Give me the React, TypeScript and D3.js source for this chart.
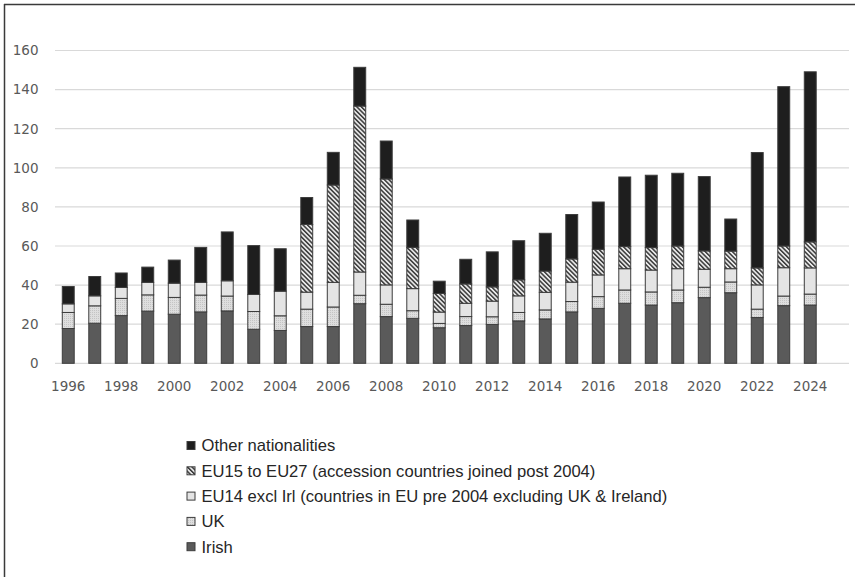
import React from "react";
import * as d3 from "d3";

const years = [1996,1997,1998,1999,2000,2001,2002,2003,2004,2005,2006,2007,2008,2009,2010,2011,2012,2013,2014,2015,2016,2017,2018,2019,2020,2021,2022,2023,2024];
const irish = [17.8,20.5,24.4,26.7,25.1,26.3,26.8,17.4,16.8,18.8,18.8,30.5,23.9,23.0,18.2,19.3,19.9,21.7,22.7,26.3,28.1,30.7,29.8,31.0,33.6,36.1,23.4,29.5,29.8];
const uk = [8.2,8.9,8.8,8.3,8.6,8.6,7.6,9.1,7.5,8.9,10.0,4.3,6.3,3.9,2.2,4.6,3.9,4.3,4.6,5.3,6.0,6.8,6.7,6.5,5.3,5.5,4.3,4.9,5.6];
const eu14 = [4.4,5.1,5.6,6.4,7.3,6.5,7.8,8.7,12.6,8.7,12.6,11.9,9.9,11.3,5.8,6.8,8.0,8.5,9.0,9.9,11.1,10.9,11.2,10.9,9.2,6.8,12.4,14.5,13.4];
const eu15to27 = [0,0,0,0,0,0,0,0,0,34.6,49.8,84.9,54.2,21.1,9.5,9.9,7.3,8.2,10.9,11.9,13.1,11.3,11.5,11.6,9.4,9.0,8.7,11.1,13.3];
const other = [8.9,9.9,7.4,7.8,11.8,17.9,25.0,25.0,21.7,13.8,16.7,19.8,19.4,14.0,6.3,12.6,17.9,20.0,19.3,22.7,24.2,35.6,37.0,37.2,38.0,16.4,59.0,81.5,87.0];
const seriesKeys = ["irish","uk","eu14","eu15","other"];
const seriesLabels = [
  "Irish",
  "UK",
  "EU14 excl Irl (countries in EU pre 2004 excluding UK & Ireland)",
  "EU15 to EU27 (accession countries joined post 2004)",
  "Other nationalities",
];
const yTicks = [0,20,40,60,80,100,120,140,160];
const xLabelYears = years.filter((y) => y % 2 === 0);

const fills: Record<string,string> = {
  irish: "#5a5a5a",
  uk: "url(#ukDots)",
  eu14: "#e4e4e4",
  eu15: "url(#hatch)",
  other: "#1e1e1e",
};

export default function App() {
  const rows = years.map((y, i) => ({
    year: y, irish: irish[i], uk: uk[i], eu14: eu14[i], eu15: eu15to27[i], other: other[i],
  }));
  const stack = d3.stack<any>().keys(seriesKeys)(rows);
  const x = d3.scaleBand<number>().domain(years).range([55, 823.5]).paddingInner(0.55).paddingOuter(0.275);
  const y = d3.scaleLinear().domain([0, 160]).range([363.3, 50.5]);
  const tickFont = "'DejaVu Sans', sans-serif";
  const legFont = "'Liberation Sans', Arial, sans-serif";
  const legendOrder = [4,3,2,1,0];
  return (
    <svg width={855} height={577} style={{ position: "absolute", left: 0, top: 0, background: "#fff" }}>
      <defs>
        <pattern id="hatch" patternUnits="userSpaceOnUse" width={3.2} height={3.2} patternTransform="rotate(-45)">
          <rect width={3.2} height={3.2} fill="#e8e8e8" />
          <rect width={1.5} height={3.2} fill="#3a3a3a" />
        </pattern>
        <pattern id="ukDots" patternUnits="userSpaceOnUse" width={2} height={2}>
          <rect width={2} height={2} fill="#dedede" />
          <rect width={1} height={1} fill="#c4c4c4" />
        </pattern>
      </defs>
      <rect x={0} y={0} width={855} height={577} fill="#fff" />
      <line x1={4.5} x2={4.5} y1={4} y2={577} stroke="#3a3a3a" strokeWidth={1.5} />
      <line x1={4} x2={855} y1={4.5} y2={4.5} stroke="#3a3a3a" strokeWidth={1.5} />
      {yTicks.map((t) => (
        <g key={t}>
          <line x1={55} x2={849} y1={y(t)} y2={y(t)} stroke="#d9d9d9" strokeWidth={1.2} />
          <text x={38.5} y={y(t)} dy="0.36em" textAnchor="end" fontFamily={tickFont} fontSize={13.5} fill="#595959">{t}</text>
        </g>
      ))}
      {stack.map((s, si) => (
        <g key={seriesKeys[si]}>
          {s.map((d: any) => (
            <rect
              key={d.data.year}
              x={x(d.data.year)}
              y={y(d[1])}
              width={x.bandwidth()}
              height={Math.max(0, y(d[0]) - y(d[1]))}
              fill={fills[seriesKeys[si]]}
              stroke={d[1] - d[0] > 0 ? "#3c3c3c" : "none"}
              strokeWidth={1}
            />
          ))}
        </g>
      ))}
      {xLabelYears.map((yr) => (
        <text key={yr} x={(x(yr) as number) + x.bandwidth() / 2} y={386} dy="0.36em" textAnchor="middle" fontFamily={tickFont} fontSize={13.5} fill="#595959">{yr}</text>
      ))}
      {legendOrder.map((si, k) => {
        const ly = 445.5 + k * 25.3;
        return (
          <g key={si}>
            <rect x={187} y={ly - 4} width={8} height={8} fill={fills[seriesKeys[si]]} stroke="#3c3c3c" strokeWidth={1} />
            <text x={201.5} y={ly} dy="0.36em" fontFamily={legFont} fontSize={16.6} fill="#262626">{seriesLabels[si]}</text>
          </g>
        );
      })}
    </svg>
  );
}
